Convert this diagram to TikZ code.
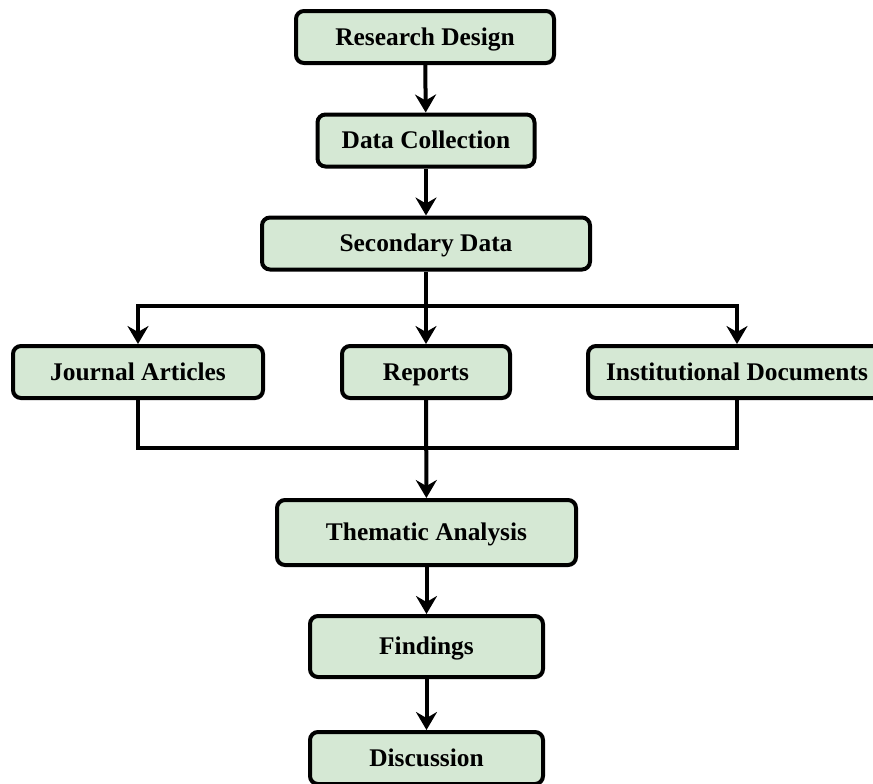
\documentclass[tikz,border=0pt]{standalone}
\usepackage{fontspec}
\setmainfont{Liberation Serif}
\usetikzlibrary{arrows.meta}
\definecolor{boxgreen}{HTML}{D5E8D4}
\tikzset{
  stagebox/.style={draw=black, line width=2pt, fill=boxgreen, rounded corners=4pt,
    minimum height=26pt, inner sep=2pt, text height=8.4pt, text depth=0pt,
    font=\fontsize{12.7}{15}\selectfont\bfseries},
  flow/.style={line width=2pt, -{Stealth[length=9pt, width=10.5pt, inset=3pt]}},
  link/.style={line width=2pt}
}
\begin{document}
\begin{tikzpicture}[x=0.5pt, y=-0.5pt]
    \clip (0,0) rectangle (873,783);

    % main stages
    \node[stagebox, minimum width=129pt] (design) at (425,37) {Research Design};
    \node[stagebox, minimum width=108.5pt] (collect) at (426,140.5) {Data Collection};
    \node[stagebox, minimum width=164pt] (secondary) at (426,243.5) {Secondary Data};

    % sources
    \node[stagebox, minimum width=125pt] (journal) at (138,372) {Journal Articles};
    \node[stagebox, minimum width=84pt] (reports) at (426,372) {Reports};
    \node[stagebox, minimum width=149pt] (inst) at (737,372) {Institutional Documents};

    \node[stagebox, minimum width=149.5pt, minimum height=32.5pt] (thematic) at (426.5,532.5) {Thematic Analysis};
    \node[stagebox, minimum width=116.5pt, minimum height=30.5pt] (findings) at (426.5,646.5) {Findings};
    \node[stagebox, minimum width=116.5pt] (discussion) at (426.5,758) {Discussion};

    \coordinate (split) at (426,306);
    \coordinate (join) at (426,448);

    \draw[flow] (design) -- (collect);
    \draw[flow] (collect) -- (secondary);
    \draw[link] (secondary) -- (split);
    \draw[flow] (split) -- (reports);
    \draw[flow] (split) -| (journal);
    \draw[flow] (split) -| (inst);

    \draw[link] (journal) |- (join);
    \draw[link] (inst) |- (join);
    \draw[flow] (reports) -- (thematic);
    \draw[flow] (thematic) -- (findings);
    \draw[flow] (findings) -- (discussion);

\end{tikzpicture}
\end{document}
